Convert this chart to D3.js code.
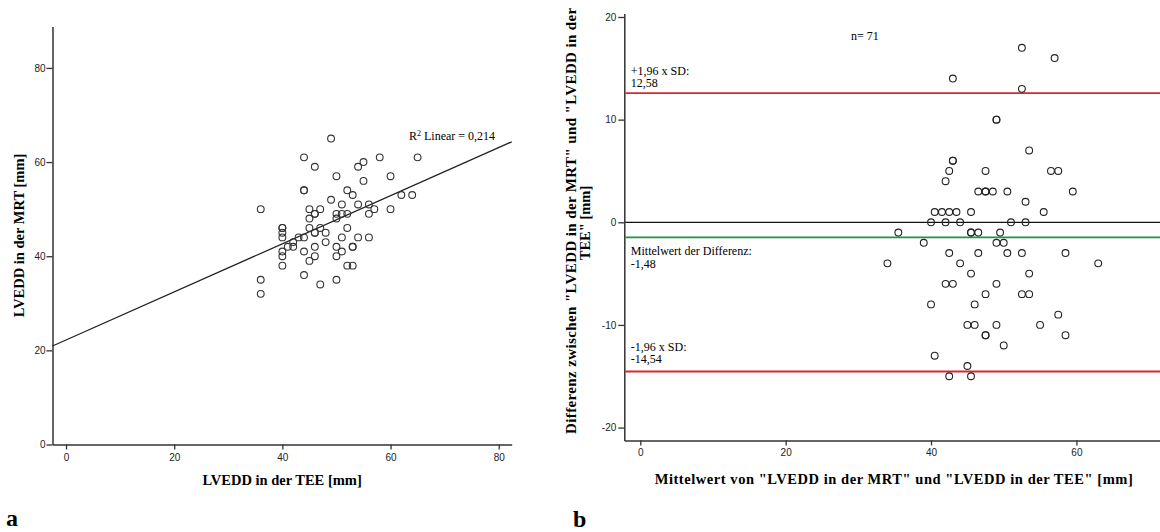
<!DOCTYPE html>
<html>
<head>
<meta charset="utf-8">
<script src="https://cdn.jsdelivr.net/npm/d3@7"></script>
<style>
  body { margin: 0; background: #fff; }
  .tick text { font-family: "Liberation Sans", Arial, sans-serif; font-size: 10px; fill: #222; }
  .Axis-label { font-family: "Liberation Serif", "Times New Roman", serif; font-weight: bold; font-size: 14.5px; fill: #000; }
  .note { font-family: "Liberation Serif", "Times New Roman", serif; font-size: 12px; fill: #000; }
</style>
</head>
<body>
<div class="Chart-wrapper"></div>
<script>
// a) LVEDD TEE vs MRT, one entry per patient (n = 71)
const teeValues = [44, 49, 36, 46, 44, 44, 50, 40, 40, 40,
  45, 54, 55, 40, 45, 46, 46, 47, 49, 58,
  52, 40, 41, 42, 43, 45, 55, 40, 42, 44,
  51, 53, 36, 46, 46, 47, 50, 40, 50, 51,
  44, 48, 52, 54, 60, 36, 46, 65, 48, 56,
  45, 46, 52, 51, 56, 57, 44, 50, 62, 50,
  51, 54, 60, 53, 53, 64, 56, 47, 52, 50,
  53];
const mrtValues = [61, 65, 50, 59, 54, 54, 57, 46, 46, 45,
  50, 59, 60, 44, 48, 49, 49, 50, 52, 61,
  54, 41, 42, 43, 44, 46, 56, 40, 42, 44,
  51, 53, 35, 45, 45, 46, 49, 38, 48, 49,
  41, 45, 49, 51, 57, 32, 42, 61, 43, 51,
  39, 40, 46, 44, 49, 50, 36, 42, 53, 40,
  41, 44, 50, 42, 42, 53, 44, 34, 38, 35,
  38];
// fit line as drawn
const fitIntercept = 22.2;
const fitSlope = 0.511;
const r2Label = "0,214";

// b) Bland-Altman: mean of both methods / difference MRT - TEE
const baMeans = [52.5, 57, 43, 52.5, 49, 49, 53.5, 43, 43, 42.5,
  47.5, 56.5, 57.5, 42, 46.5, 47.5, 47.5, 48.5, 50.5, 59.5,
  53, 40.5, 41.5, 42.5, 43.5, 45.5, 55.5, 40, 42, 44,
  51, 53, 35.5, 45.5, 45.5, 46.5, 49.5, 39, 49, 50,
  42.5, 46.5, 50.5, 52.5, 58.5, 34, 44, 63, 45.5, 53.5,
  42, 43, 49, 47.5, 52.5, 53.5, 40, 46, 57.5, 45,
  46, 49, 55, 47.5, 47.5, 58.5, 50, 40.5, 45, 42.5,
  45.5];
const baDiffs = [17, 16, 14, 13, 10, 10, 7, 6, 6, 5,
  5, 5, 5, 4, 3, 3, 3, 3, 3, 3,
  2, 1, 1, 1, 1, 1, 1, 0, 0, 0,
  0, 0, -1, -1, -1, -1, -1, -2, -2, -2,
  -3, -3, -3, -3, -3, -4, -4, -4, -5, -5,
  -6, -6, -6, -7, -7, -7, -8, -8, -9, -10,
  -10, -10, -10, -11, -11, -11, -12, -13, -14, -15,
  -15];
const meanDiff = -1.48;
const upperLimit = 12.58;
const lowerLimit = -14.54;
const nLabel = "n= 71";

const leftTicks = [0, 20, 40, 60, 80];
const rightXTicks = [0, 20, 40, 60];
const rightYTicks = [-20, -10, 0, 10, 20];

const width = 1160, height = 532;

const svg = d3.select(".Chart-wrapper")
  .append("svg")
  .attr("width", width)
  .attr("height", height)
  .style("display", "block");

svg.append("rect").attr("width", width).attr("height", height).attr("fill", "#fff");

function styleAxis(g) {
  g.select(".domain").attr("stroke", "#333").attr("stroke-width", 1.5);
  g.selectAll(".tick line").attr("stroke", "#333").attr("stroke-width", 1.3);
}
// plain hyphen minus, like the original
const plain = d => String(d);

// ---------- chart a ----------
const xA = d3.scaleLinear().domain([-2.5, 82.4]).range([52.5, 511.7]);
const yA = d3.scaleLinear().domain([0, 88.8]).range([444.5, 26.5]);

svg.append("g")
  .attr("transform", `translate(0,${yA(0)})`)
  .call(d3.axisBottom(xA).tickValues(leftTicks).tickFormat(plain).tickSize(5).tickPadding(4).tickSizeOuter(0))
  .call(styleAxis);

svg.append("g")
  .attr("transform", `translate(${xA(-2.5)},0)`)
  .call(d3.axisLeft(yA).tickValues(leftTicks).tickFormat(plain).tickSize(6).tickPadding(1).tickSizeOuter(0))
  .call(styleAxis);

// regression line
svg.append("line")
  .attr("x1", xA(-2.5)).attr("y1", yA(fitIntercept + fitSlope * -2.5))
  .attr("x2", xA(82.4)).attr("y2", yA(fitIntercept + fitSlope * 82.4))
  .attr("stroke", "#222").attr("stroke-width", 1.3);

svg.selectAll("circle.ptA")
  .data(d3.range(teeValues.length))
  .join("circle")
  .attr("class", "ptA")
  .attr("cx", i => xA(teeValues[i]))
  .attr("cy", i => yA(mrtValues[i]))
  .attr("r", 3.4)
  .attr("fill", "none")
  .attr("stroke", "#333")
  .attr("stroke-width", 1.1);

const r2 = svg.append("text").attr("class", "note")
  .attr("x", 409).attr("y", 139.5);
r2.append("tspan").text("R");
r2.append("tspan").attr("dy", -4).attr("font-size", "8px").text("2");
r2.append("tspan").attr("dy", 4).text(" Linear = " + r2Label);

svg.append("text")
  .text("LVEDD in der TEE [mm]")
  .attr("class", "Axis-label")
  .attr("text-anchor", "middle")
  .attr("x", (xA.range()[0] + xA.range()[1]) / 2)
  .attr("y", 485);

svg.append("text")
  .text("LVEDD in der MRT [mm]")
  .attr("class", "Axis-label")
  .attr("text-anchor", "middle")
  .attr("transform", `translate(23.5,${(yA.range()[0] + yA.range()[1]) / 2}) rotate(-90)`);

// ---------- chart b ----------
const xB = d3.scaleLinear().domain([-2.2, 71.5]).range([624.3, 1160]);
const yB = d3.scaleLinear().domain([-21.25, 20.33]).range([440.4, 13.6]);

svg.append("g")
  .attr("transform", `translate(0,${yB(-21.25)})`)
  .call(d3.axisBottom(xB).tickValues(rightXTicks).tickFormat(plain).tickSize(5).tickPadding(4).tickSizeOuter(0))
  .call(styleAxis);

svg.append("g")
  .attr("transform", `translate(${xB(-2.2)},0)`)
  .call(d3.axisLeft(yB).tickValues(rightYTicks).tickFormat(plain).tickSize(6).tickPadding(2).tickSizeOuter(0))
  .call(styleAxis);

// reference lines: zero, mean difference, limits of agreement
const refLines = [
  { v: 0, c: "#111", w: 1.2 },
  { v: meanDiff, c: "#1f9347", w: 1.8 },
  { v: upperLimit, c: "#d9272f", w: 1.8 },
  { v: lowerLimit, c: "#d9272f", w: 1.8 }
];
svg.selectAll("line.ref")
  .data(refLines)
  .join("line")
  .attr("class", "ref")
  .attr("x1", xB(-2.2) + 1).attr("x2", xB(71.5))
  .attr("y1", d => yB(d.v)).attr("y2", d => yB(d.v))
  .attr("stroke", d => d.c)
  .attr("stroke-width", d => d.w);

svg.selectAll("circle.ptB")
  .data(d3.range(baMeans.length))
  .join("circle")
  .attr("class", "ptB")
  .attr("cx", i => xB(baMeans[i]))
  .attr("cy", i => yB(baDiffs[i]))
  .attr("r", 3.4)
  .attr("fill", "none")
  .attr("stroke", "#222")
  .attr("stroke-width", 1.1);

const fmt = v => v.toFixed(2).replace(".", ",");
const notes = [
  { lines: ["+1,96 x SD:", fmt(upperLimit)], y: yB(upperLimit) - 18.5 },
  { lines: ["Mittelwert der Differenz:", fmt(meanDiff)], y: yB(meanDiff) + 18 },
  { lines: ["-1,96 x SD:", fmt(lowerLimit)], y: yB(lowerLimit) - 21 }
];
notes.forEach(n => {
  const t = svg.append("text").attr("class", "note").attr("x", 630.8).attr("y", n.y);
  n.lines.forEach((l, i) => t.append("tspan").attr("x", 630.8).attr("dy", i ? 12.5 : 0).text(l));
});

svg.append("text").attr("class", "note")
  .attr("x", xB(29)).attr("y", 39.5)
  .text(nLabel);

svg.append("text")
  .text('Mittelwert von "LVEDD in der MRT" und "LVEDD in der TEE" [mm]')
  .attr("class", "Axis-label")
  .attr("text-anchor", "middle")
  .style("letter-spacing", "0.55px")
  .attr("x", 894)
  .attr("y", 483.5);

// first line is longer than the axis and reaches the top edge, as in the original
svg.append("text")
  .attr("class", "Axis-label")
  .attr("text-anchor", "start")
  .style("font-size", "15px")
  .style("letter-spacing", "0.38px")
  .attr("transform", "translate(576,434) rotate(-90)")
  .text('Differenz zwischen "LVEDD in der MRT" und "LVEDD in der');
svg.append("text")
  .attr("class", "Axis-label")
  .attr("text-anchor", "middle")
  .attr("transform", `translate(590,${(yB.range()[0] + yB.range()[1]) / 2 - 4}) rotate(-90)`)
  .text('TEE" [mm]');

// panel letters
svg.append("text").text("a")
  .attr("x", 6).attr("y", 526)
  .attr("font-family", "Liberation Serif, serif").attr("font-weight", "bold").attr("font-size", 24);
svg.append("text").text("b")
  .attr("x", 573).attr("y", 527)
  .attr("font-family", "Liberation Serif, serif").attr("font-weight", "bold").attr("font-size", 24);
</script>
</body>
</html>
